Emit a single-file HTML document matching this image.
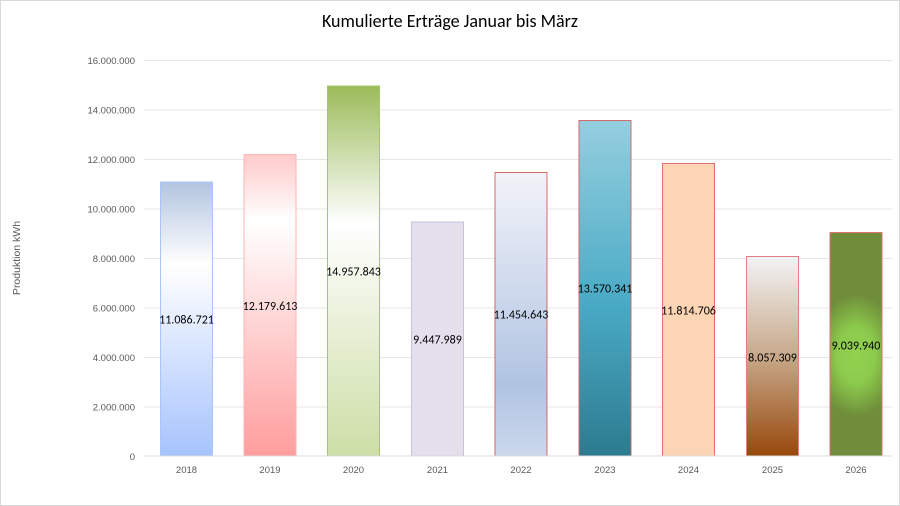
<!DOCTYPE html>
<html><head><meta charset="utf-8"><style>
html,body{margin:0;padding:0;background:#fff}
svg{display:block;font-family:"Liberation Sans",sans-serif}
</style></head><body>
<svg width="900" height="506" viewBox="0 0 900 506" xmlns="http://www.w3.org/2000/svg">
<defs>
<linearGradient id="g18" x1="0" y1="0" x2="0" y2="1"><stop offset="0" stop-color="#b2c4e0"/><stop offset="0.3" stop-color="#ffffff"/><stop offset="1" stop-color="#a6c3fd"/></linearGradient>
<linearGradient id="g19" x1="0" y1="0" x2="0" y2="1"><stop offset="0" stop-color="#ffcaca"/><stop offset="0.22" stop-color="#ffffff"/><stop offset="1" stop-color="#ff9d9d"/></linearGradient>
<linearGradient id="g20" x1="0" y1="0" x2="0" y2="1"><stop offset="0" stop-color="#9bbb59"/><stop offset="0.37" stop-color="#ffffff"/><stop offset="1" stop-color="#cddea6"/></linearGradient>
<linearGradient id="g22" x1="0" y1="0" x2="0" y2="1"><stop offset="0" stop-color="#f2f3f9"/><stop offset="0.75" stop-color="#b0c4e2"/><stop offset="1" stop-color="#cbd8eb"/></linearGradient>
<linearGradient id="g23" x1="0" y1="0" x2="0" y2="1"><stop offset="0" stop-color="#95cfdf"/><stop offset="0.55" stop-color="#49aac5"/><stop offset="1" stop-color="#2d7b8f"/></linearGradient>
<linearGradient id="g25" x1="0" y1="0" x2="0" y2="1"><stop offset="0" stop-color="#f3f3f5"/><stop offset="0.5" stop-color="#c8a88a"/><stop offset="1" stop-color="#98480c"/></linearGradient>
<radialGradient id="g26" cx="0.5" cy="0.55" r="0.5" gradientTransform="translate(0.5 0.55) scale(1.6 0.55) translate(-0.5 -0.55)"><stop offset="0" stop-color="#92d050"/><stop offset="0.45" stop-color="#8ccb4c"/><stop offset="1" stop-color="#6f8d3a"/></radialGradient>
</defs>
<rect x="0.5" y="0.5" width="899" height="505" fill="#fff" stroke="#d9d9d9"/>
<text x="450" y="27" text-anchor="middle" font-size="18" fill="#000" font-family="Calibri,'Liberation Sans',sans-serif">Kumulierte Erträge Januar bis März</text>
<g stroke="#e6e6e6" stroke-width="1">
<line x1="144" x2="892" y1="60.5" y2="60.5"/>
<line x1="144" x2="892" y1="110" y2="110"/>
<line x1="144" x2="892" y1="159.5" y2="159.5"/>
<line x1="144" x2="892" y1="209" y2="209"/>
<line x1="144" x2="892" y1="258.5" y2="258.5"/>
<line x1="144" x2="892" y1="308" y2="308"/>
<line x1="144" x2="892" y1="357.5" y2="357.5"/>
<line x1="144" x2="892" y1="407" y2="407"/>
</g>
<g font-size="9.5" fill="#595959" text-anchor="end">
<text x="135" y="64">16.000.000</text>
<text x="135" y="113.5">14.000.000</text>
<text x="135" y="163">12.000.000</text>
<text x="135" y="212.5">10.000.000</text>
<text x="135" y="262">8.000.000</text>
<text x="135" y="311.5">6.000.000</text>
<text x="135" y="361">4.000.000</text>
<text x="135" y="410.5">2.000.000</text>
<text x="135" y="460">0</text>
</g>
<text transform="translate(20 258) rotate(-90)" text-anchor="middle" font-size="10.5" fill="#595959">Produktion kWh</text>
<rect x="160.5" y="182" width="52" height="274" fill="url(#g18)" stroke="#a9c4fe"/>
<rect x="244" y="154.5" width="52" height="301.5" fill="url(#g19)" stroke="#ffb5b5"/>
<rect x="327.5" y="86" width="52" height="370" fill="url(#g20)" stroke="#a8c470"/>
<rect x="411.5" y="222" width="52" height="234" fill="#e4dfec" stroke="#ccc0da"/>
<rect x="495" y="172.5" width="52" height="283.5" fill="url(#g22)" stroke="#d46a6a"/>
<rect x="579" y="120.5" width="52" height="335.5" fill="url(#g23)" stroke="#d46a6a"/>
<rect x="662.5" y="163.5" width="52" height="292.5" fill="#fcd5b4" stroke="#e07070"/>
<rect x="746.5" y="256.5" width="52" height="199.5" fill="url(#g25)" stroke="#e08080"/>
<rect x="830" y="232.5" width="52" height="223.5" fill="url(#g26)" stroke="#e07070"/>
<line x1="144" x2="892" y1="456" y2="456" stroke="#d9d9d9"/>
<g font-size="12" fill="#000" text-anchor="middle" font-family="Calibri,'Liberation Sans',sans-serif">
<text x="186.5" y="323.5">11.086.721</text>
<text x="270" y="310">12.179.613</text>
<text x="353.5" y="275.5">14.957.843</text>
<text x="437.5" y="343.5">9.447.989</text>
<text x="521" y="318.5">11.454.643</text>
<text x="605" y="292.5">13.570.341</text>
<text x="688.5" y="314.5">11.814.706</text>
<text x="772.5" y="361.5">8.057.309</text>
<text x="856" y="349.5">9.039.940</text>
</g>
<g font-size="9.5" fill="#595959" text-anchor="middle">
<text x="186.5" y="473">2018</text>
<text x="270" y="473">2019</text>
<text x="353.5" y="473">2020</text>
<text x="437.5" y="473">2021</text>
<text x="521" y="473">2022</text>
<text x="605" y="473">2023</text>
<text x="688.5" y="473">2024</text>
<text x="772.5" y="473">2025</text>
<text x="856" y="473">2026</text>
</g>
</svg>
</body></html>
